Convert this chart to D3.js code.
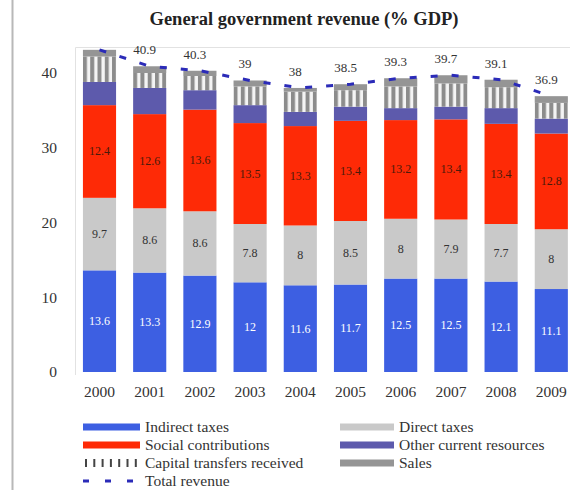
<!DOCTYPE html>
<html>
<head>
<meta charset="utf-8">
<script src="https://cdn.jsdelivr.net/npm/d3@7/dist/d3.min.js"></script>
<style>
  html, body { margin: 0; padding: 0; background: #fff; }
  svg { display: block; }
  svg text { font-family: "Liberation Serif", "DejaVu Serif", serif; }
</style>
</head>
<body>
<svg id="chart" width="570" height="490"></svg>
<script>
// General government revenue, % of GDP
const years = ["2000", "2001", "2002", "2003", "2004", "2005", "2006", "2007", "2008", "2009"];
const indirectTaxes = [13.6, 13.3, 12.9, 12, 11.6, 11.7, 12.5, 12.5, 12.1, 11.1];
const directTaxes = [9.7, 8.6, 8.6, 7.8, 8, 8.5, 8, 7.9, 7.7, 8];
const socialContributions = [12.4, 12.6, 13.6, 13.5, 13.3, 13.4, 13.2, 13.4, 13.4, 12.8];
const otherCurrent = [3.1, 3.5, 2.6, 2.4, 1.9, 1.9, 1.6, 1.7, 2.1, 2.0];
const capitalTransfers = [3.4, 2.0, 1.9, 2.5, 2.7, 2.2, 2.9, 3.1, 2.8, 2.1];
const sales = [0.9, 0.9, 0.7, 0.8, 0.5, 0.8, 1.1, 1.1, 1.0, 0.9];
const totalRevenue = [43.1, 40.9, 40.3, 39, 38, 38.5, 39.3, 39.7, 39.1, 36.9];
const totalLabels = ["", "40.9", "40.3", "39", "38", "38.5", "39.3", "39.7", "39.1", "36.9"];
const yTicks = [0, 10, 20, 30, 40];

const SERIF = "'Liberation Serif', 'DejaVu Serif', serif";

const seriesKeys = ["indirect", "direct", "social", "other", "capital", "sales"];
const seriesNames = {
  indirect: "Indirect taxes",
  direct: "Direct taxes",
  social: "Social contributions",
  other: "Other current resources",
  capital: "Capital transfers received",
  sales: "Sales"
};
const colors = {
  indirect: "#3d5fe2",
  direct: "#c9c9c9",
  social: "#fe2a06",
  other: "#5d5aac",
  capital: "#8c8c8c",
  sales: "#959595"
};

const table = years.map((y, i) => ({
  year: y,
  indirect: indirectTaxes[i],
  direct: directTaxes[i],
  social: socialContributions[i],
  other: otherCurrent[i],
  capital: capitalTransfers[i],
  sales: sales[i],
  total: totalRevenue[i]
}));

const svg = d3.select("#chart");
const defs = svg.append("defs");

// page frame line on the left
svg.append("line")
  .attr("x1", 12.5).attr("x2", 12.5).attr("y1", 0).attr("y2", 490)
  .attr("stroke", "#b8b8b8").attr("stroke-width", 2);

// title
svg.append("text")
  .attr("x", 304).attr("y", 25)
  .attr("text-anchor", "middle")
  .style("font-family", SERIF)
  .attr("font-size", 18.5).attr("font-weight", "bold")
  .attr("fill", "#222")
  .text("General government revenue (% GDP)");

const x = d3.scaleBand()
  .domain(years)
  .range([74.4, 576.4])
  .paddingInner(0.34)
  .paddingOuter(0.17);

const y = d3.scaleLinear().domain([0, 40]).range([372, 73]);

// plot area frame
svg.append("path")
  .attr("d", `M75.5,375 V47.5 H570`)
  .attr("fill", "none").attr("stroke", "#e2e2e2").attr("stroke-width", 1);

// y axis labels
const yAxis = d3.axisLeft(y).tickValues(yTicks).tickSize(0).tickPadding(0).tickFormat(d3.format("d"));
const yg = svg.append("g").attr("transform", "translate(57,0)").call(yAxis);
yg.select(".domain").remove();
yg.selectAll("text").style("font-family", SERIF).attr("font-size", 15.5).attr("fill", "#333");

// x axis labels
const xAxis = d3.axisBottom(x).tickSize(0).tickPadding(0);
const xg = svg.append("g").attr("transform", "translate(0,386)").call(xAxis);
xg.select(".domain").remove();
xg.selectAll("text").style("font-family", SERIF).attr("font-size", 15.5).attr("fill", "#333");

// stripe pattern for capital transfers, one per bar so the posts line up with the bar edges
const bw = x.bandwidth();
const postW = 4;
const period = (bw - postW) / 4;
years.forEach((yr, i) => {
  const p = defs.append("pattern")
    .attr("id", "stripes-" + i)
    .attr("patternUnits", "userSpaceOnUse")
    .attr("x", x(yr)).attr("y", 0)
    .attr("width", period).attr("height", 10);
  p.append("rect").attr("width", period).attr("height", 10).attr("fill", "#f4f4f4");
  p.append("rect").attr("width", postW).attr("height", 10).attr("fill", colors.capital);
});

const stacked = d3.stack().keys(seriesKeys)(table);

const layers = svg.append("g").selectAll("g")
  .data(stacked)
  .join("g");

layers.selectAll("rect")
  .data(d => d.map(v => ({ key: d.key, v })))
  .join("rect")
  .attr("x", d => x(d.v.data.year))
  .attr("width", bw)
  .attr("y", d => y(d.v[1]))
  .attr("height", d => y(d.v[0]) - y(d.v[1]))
  .attr("fill", (d, i) => d.key === "capital" ? `url(#stripes-${i})` : colors[d.key]);

// value labels in the three main segments
const labelled = [
  { key: "indirect", fill: "#ffffff" },
  { key: "direct", fill: "#333333" },
  { key: "social", fill: "#4a1a0a" }
];
labelled.forEach(l => {
  const layer = stacked.find(s => s.key === l.key);
  svg.append("g").selectAll("text")
    .data(layer)
    .join("text")
    .attr("x", d => x(d.data.year) + bw / 2)
    .attr("y", d => y((d[0] + d[1]) / 2) + 4)
    .attr("text-anchor", "middle")
    .style("font-family", SERIF)
    .attr("font-size", 12)
    .attr("fill", l.fill)
    .text(d => d.data[l.key]);
});

// total revenue dashed line
const line = d3.line()
  .x(d => x(d.year) + bw / 2)
  .y(d => y(d.total));
svg.append("path")
  .datum(table)
  .attr("d", line)
  .attr("fill", "none")
  .attr("stroke", "#2b2bb8")
  .attr("stroke-width", 3)
  .attr("stroke-dasharray", "7,14");

// total labels above bars
svg.append("g").selectAll("text")
  .data(table)
  .join("text")
  .attr("x", d => x(d.year) + bw / 2 - 5)
  .attr("y", d => y(d.total) - 12)
  .attr("text-anchor", "middle")
  .style("font-family", SERIF)
  .attr("font-size", 13)
  .attr("fill", "#333")
  .text((d, i) => totalLabels[i]);

// legend
const legendItems = [
  { key: "indirect", col: 0, row: 0 },
  { key: "direct", col: 1, row: 0 },
  { key: "social", col: 0, row: 1 },
  { key: "other", col: 1, row: 1 },
  { key: "capital", col: 0, row: 2 },
  { key: "sales", col: 1, row: 2 },
  { key: "total", col: 0, row: 3 }
];
const colX = [83, 340];
const rowY = [427, 445, 463, 481];
const leg = svg.append("g");
legendItems.forEach(it => {
  const lx = colX[it.col];
  const ly = rowY[it.row];
  if (it.key === "capital") {
    d3.range(7).forEach(k => {
      leg.append("rect")
        .attr("x", lx + 2 + k * 8.3).attr("y", ly - 4)
        .attr("width", 2).attr("height", 8)
        .attr("fill", "#444");
    });
  } else if (it.key === "total") {
    leg.append("line")
      .attr("x1", lx).attr("x2", lx + 56)
      .attr("y1", ly).attr("y2", ly)
      .attr("stroke", "#2b2bb8").attr("stroke-width", 3)
      .attr("stroke-dasharray", "6,16");
  } else {
    leg.append("rect")
      .attr("x", lx).attr("y", ly - 3.5)
      .attr("width", it.col === 0 ? 57 : 54).attr("height", 7)
      .attr("fill", colors[it.key]);
  }
  leg.append("text")
    .attr("x", lx + (it.col === 0 ? 62 : 59)).attr("y", ly + 5)
    .style("font-family", SERIF)
    .attr("font-size", 15.5)
    .attr("fill", "#333")
    .text(it.key === "total" ? "Total revenue" : seriesNames[it.key]);
});
</script>
</body>
</html>
